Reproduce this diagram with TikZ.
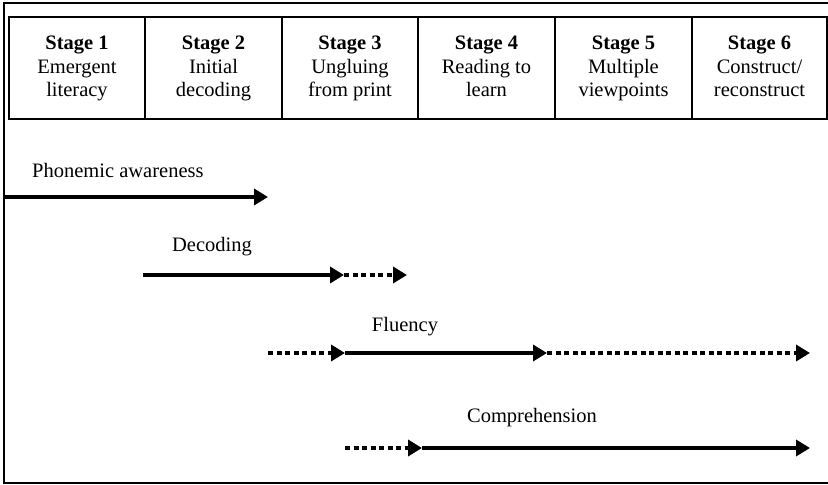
\documentclass[tikz,border=0pt]{standalone}
\usepackage{fontspec}
\setmainfont{Liberation Serif}
\usetikzlibrary{arrows.meta}
\begin{document}
\begin{tikzpicture}[x=1pt,y=1pt,
  frame/.style={line width=1.6pt},
  box/.style={line width=2.4pt},
  stagetext/.style={align=center,anchor=north,font=\fontsize{20.5}{23.5}\selectfont},
  lbl/.style={font=\fontsize{20.5}{24}\selectfont,inner sep=0pt},
  solidarr/.style={line width=4pt,-{Triangle[length=14pt,width=16pt]}},
  dotarr/.style={line width=4.5pt,dash pattern=on 5pt off 3.5pt,-{Triangle[length=14pt,width=16pt]}}]
\useasboundingbox (0,0) rectangle (828,485);
% outer frame
\coordinate (ftr) at (828,482);
\coordinate (ftl) at (4,482);
\coordinate (fbl) at (4,2);
\coordinate (fbr) at (828,2);
\draw[frame] (ftr) -- (ftl) -- (fbl) -- (fbr);
% stage boxes
\coordinate (bl) at (9,366);
\coordinate (tr) at (827,468);
\draw[box] (bl) rectangle (tr);
\foreach \x in {145,282,418,555,692}{
  \draw[box] (\x,366) -- (\x,468);
}
\node[stagetext] (s1) at (77,452.5) {\textbf{Stage 1}\\Emergent\\literacy};
\node[stagetext] (s2) at (213.5,452.5) {\textbf{Stage 2}\\Initial\\decoding};
\node[stagetext] (s3) at (350,452.5) {\textbf{Stage 3}\\Ungluing\\from print};
\node[stagetext] (s4) at (486.5,452.5) {\textbf{Stage 4}\\Reading to\\learn};
\node[stagetext] (s5) at (623.5,452.5) {\textbf{Stage 5}\\Multiple\\viewpoints};
\node[stagetext] (s6) at (759.5,452.5) {\textbf{Stage 6}\\Construct/\\reconstruct};
% Phonemic awareness
\node[lbl,anchor=west] (lpa) at (32,315) {Phonemic awareness};
\coordinate (pa0) at (4,288);
\coordinate (pa1) at (268,288);
\draw[solidarr] (pa0) -- (pa1);
% Decoding
\node[lbl] (ld) at (212,238) {Decoding};
\coordinate (d0) at (143,210);
\coordinate (d1) at (344,210);
\coordinate (d2) at (407,210);
\draw[solidarr] (d0) -- (d1);
\draw[dotarr] (d1) -- (d2);
% Fluency
\node[lbl] (lf) at (405,158) {Fluency};
\coordinate (f0) at (268,132);
\coordinate (f1) at (345,132);
\coordinate (f2) at (547,132);
\coordinate (f3) at (810,132);
\draw[dotarr] (f0) -- (f1);
\draw[solidarr] (f1) -- (f2);
\draw[dotarr] (f2) -- (f3);
% Comprehension
\node[lbl] (lc) at (532,67) {Comprehension};
\coordinate (c0) at (345,37);
\coordinate (c1) at (422,37);
\coordinate (c2) at (810,37);
\draw[dotarr] (c0) -- (c1);
\draw[solidarr] (c1) -- (c2);
\end{tikzpicture}
\end{document}
